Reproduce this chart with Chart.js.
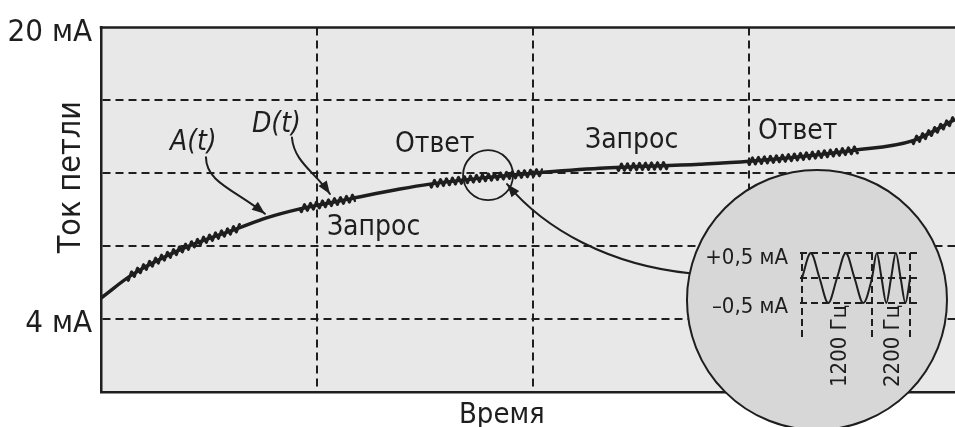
<!DOCTYPE html>
<html><head><meta charset="utf-8">
<script src="https://cdn.jsdelivr.net/npm/chart.js@4.4.1/dist/chart.umd.min.js"></script>
<style>
html,body{margin:0;padding:0;background:#fff;}
#wrap{position:relative;width:955px;height:427px;overflow:hidden;}
canvas{position:absolute;left:0;top:0;}
</style></head><body>
<div id="wrap"><canvas id="main" width="955" height="427"></canvas><canvas id="inset" width="955" height="427"></canvas></div>
<script>
// ---------- data ----------
const timeUnits   = [0, 0.148, 0.38, 0.63, 0.77, 0.921, 1.153, 1.384, 1.523, 1.80, 2.0, 2.31, 2.773, 3.0, 3.48, 3.76, 3.954];
const loopCurrent = [5.16, 6.47, 7.88, 8.97, 9.57, 10.05, 10.60, 11.14, 11.41, 11.79, 12.01, 12.28, 12.5, 12.66, 13.26, 13.8, 14.95];
const yTickValues = [20, 4];
const yTickTexts  = ['20 мА', '4 мА'];
const burstStarts = [0.120, 0.921, 1.523, 2.389, 2.995, 3.755];
const burstEnds   = [0.644, 1.176, 2.042, 2.625, 3.505, 3.954];
const waveTime    = [0, 0.2083, 0.4167, 0.625, 0.8333, 1.0417, 1.25, 1.4583, 1.6667, 1.7803, 1.8939, 2.0076, 2.1212, 2.2348, 2.3485, 2.4621, 2.5758];
const waveCurrent = [0, 0.5, 0, -0.5, 0, 0.5, 0, -0.5, 0, 0.5, 0, -0.5, 0, 0.5, 0, -0.5, 0];
const toneBounds  = [0, 1.6667, 2.5758];
const levelValues = [-0.5, 0, 0.5];
const toneLabels  = ['1200 Гц', '2200 Гц'];
const levelLabels = ['+0,5 мА', '–0,5 мА'];

// ---------- styles / annotation layout ----------
const INK = '#1e1e1e';
const FONT = '"DejaVu Sans Condensed", "Liberation Sans", Arial, sans-serif';
const WIG = {amp: 3.6, period: 6, width: 2.3};
const notes = [
  {t:'A(t)',   x:0.319, y:13.26, size:28, style:'italic '},
  {t:'D(t)',   x:0.699, y:14.29, size:28, style:'italic '},
  {t:'Запрос', x:1.046, y:8.64,  size:28, style:''},
  {t:'Ответ',  x:1.361, y:13.15, size:28, style:''},
  {t:'Запрос', x:2.241, y:13.37, size:28, style:''},
  {t:'Ответ',  x:3.042, y:13.86, size:28, style:''}
];
const arrows = [
  [[0.486,12.88],[0.486,11.52],[0.62,11.09],[0.759,9.78]],
  [[0.884,13.97],[0.894,12.61],[0.991,12.07],[1.06,10.87]],
  [[2.727,6.52],[2.356,6.96],[2.056,8.91],[1.88,11.41]]
];
const smallCircle = {x:1.792, y:11.90, r:25};
const bigCircle = {x:3.315, y:5.054, r:130, fill:'#d7d7d7'};
const yTitle = {t:'Ток петли', x:-0.097, y:11.79, size:32};
const xTitle = {t:'Время', x:1.856, y:-1.685, size:29};
const levelPos = [{x:3.181, y:7.01}, {x:3.181, y:4.35}];
const tonePos = [{x:3.449, y:0.272}, {x:3.694, y:0.272}];

function drawArrow(ctx, p){
  ctx.beginPath();
  ctx.moveTo(p[0][0],p[0][1]);
  ctx.bezierCurveTo(p[1][0],p[1][1],p[2][0],p[2][1],p[3][0],p[3][1]);
  ctx.stroke();
  const ang = Math.atan2(p[3][1]-p[2][1], p[3][0]-p[2][0]);
  const L = 13, W = 5, c = Math.cos(ang), s = Math.sin(ang);
  const x = p[3][0], y = p[3][1];
  ctx.beginPath();
  ctx.moveTo(x, y);
  ctx.lineTo(x - L*c + W*s, y - L*s - W*c);
  ctx.lineTo(x - L*c - W*s, y - L*s + W*c);
  ctx.closePath();
  ctx.fill();
}

const decor = {
  id:'decor',
  beforeDraw(chart){
    const {ctx, chartArea:a} = chart;
    ctx.save(); ctx.fillStyle = '#e8e8e8';
    ctx.fillRect(a.left, a.top, a.right-a.left, a.bottom-a.top);
    ctx.restore();
  },
  afterDatasetsDraw(chart){
    const ctx = chart.ctx, xs = chart.scales.x, ys = chart.scales.y;
    const P = (x,y) => [xs.getPixelForValue(x), ys.getPixelForValue(y)];
    const line = chart.getDatasetMeta(0).dataset;
    ctx.save();
    ctx.strokeStyle = INK; ctx.fillStyle = INK; ctx.lineJoin = 'round'; ctx.lineCap = 'round';
    ctx.lineWidth = WIG.width;
    for (let i = 0; i < burstStarts.length; i++){
      const s = xs.getPixelForValue(burstStarts[i]);
      const e = Math.min(xs.getPixelForValue(burstEnds[i]), chart.chartArea.right - 0.5);
      ctx.beginPath(); let first = true;
      for (let px = s; px <= e; px += 0.5){
        const p = line.interpolate({x:px}, 'x');
        if (!p || Array.isArray(p)) continue;
        const y = p.y + WIG.amp*Math.sin(2*Math.PI*(px-s)/WIG.period);
        if (first){ ctx.moveTo(px,y); first=false; } else ctx.lineTo(px,y);
      }
      ctx.stroke();
    }
    ctx.lineWidth = 2;
    arrows.forEach(a => drawArrow(ctx, a.map(q => P(q[0], q[1]))));
    const sc = P(smallCircle.x, smallCircle.y);
    ctx.lineWidth = 1.8;
    ctx.beginPath(); ctx.arc(sc[0], sc[1], smallCircle.r, 0, Math.PI*2); ctx.stroke();
    ctx.textBaseline = 'alphabetic'; ctx.textAlign = 'left';
    notes.forEach(n => {
      const p = P(n.x, n.y);
      ctx.font = n.style + n.size + 'px ' + FONT;
      ctx.fillText(n.t, p[0], p[1]);
    });
    ctx.restore();
  },
  afterDraw(chart){
    const ctx = chart.ctx, xs = chart.scales.x, ys = chart.scales.y, a = chart.chartArea;
    const P = (x,y) => [xs.getPixelForValue(x), ys.getPixelForValue(y)];
    ctx.save();
    ctx.strokeStyle = INK; ctx.fillStyle = INK;
    ctx.lineWidth = 2.5;
    ctx.beginPath(); ctx.moveTo(a.left-1.25, a.top); ctx.lineTo(a.right, a.top); ctx.stroke();
    // big inset circle
    const bc = P(bigCircle.x, bigCircle.y);
    ctx.beginPath(); ctx.arc(bc[0], bc[1], bigCircle.r, 0, Math.PI*2);
    ctx.fillStyle = bigCircle.fill; ctx.fill();
    ctx.lineWidth = 2; ctx.stroke();
    ctx.fillStyle = INK;
    // inset level labels
    ctx.font = '22px ' + FONT; ctx.textAlign = 'right'; ctx.textBaseline = 'alphabetic';
    levelLabels.forEach((t,i) => { const p = P(levelPos[i].x, levelPos[i].y); ctx.fillText(t, p[0], p[1]); });
    // tone labels (rotated)
    ctx.textAlign = 'left';
    toneLabels.forEach((t,i) => {
      const p = P(tonePos[i].x, tonePos[i].y);
      ctx.save(); ctx.translate(p[0], p[1]); ctx.rotate(-Math.PI/2); ctx.fillText(t, 0, 0); ctx.restore();
    });
    // axis titles
    let p = P(yTitle.x, yTitle.y);
    ctx.font = yTitle.size + 'px ' + FONT; ctx.textAlign = 'center';
    ctx.save(); ctx.translate(p[0], p[1]); ctx.rotate(-Math.PI/2); ctx.fillText(yTitle.t, 0, 0); ctx.restore();
    p = P(xTitle.x, xTitle.y);
    ctx.font = xTitle.size + 'px ' + FONT;
    ctx.fillText(xTitle.t, p[0], p[1]);
    ctx.restore();
  }
};

new Chart(document.getElementById('main'), {
  type:'line',
  data:{datasets:[{
    data: timeUnits.map((t,i) => ({x:t, y:loopCurrent[i]})),
    borderColor: INK, borderWidth: 3.5, pointRadius: 0,
    cubicInterpolationMode: 'monotone', fill: false
  }]},
  options:{
    responsive:false, animation:false, events:[],
    layout:{padding:{top:24, left:0, right:0, bottom:0}},
    plugins:{legend:{display:false}, tooltip:{enabled:false}},
    scales:{
      x:{type:'linear', min:0, max:3.954,
        afterFit(s){ s.height = 35; },
        ticks:{display:false, stepSize:1, includeBounds:false},
        grid:{drawTicks:false, lineWidth:2, color: c => (c.tick && c.tick.value > 0) ? INK : 'rgba(0,0,0,0)'},
        border:{display:true, color:INK, width:2.5, dash:[8,5]}},
      y:{type:'linear', min:0, max:20,
        afterFit(s){ s.width = 101; },
        ticks:{stepSize:4, padding:9, labelOffset:5, color:INK, autoSkip:false,
          font:{family:FONT, size:31},
          callback: v => { const i = yTickValues.indexOf(v); return i >= 0 ? yTickTexts[i] : ''; }},
        grid:{drawTicks:false, lineWidth:2, color: c => (c.tick && c.tick.value > 0 && c.tick.value < 20) ? INK : 'rgba(0,0,0,0)'},
        border:{display:true, color:INK, width:2.5, dash:[8,5]}}
    }
  },
  plugins:[decor]
});

new Chart(document.getElementById('inset'), {
  type:'line',
  data:{datasets:[{
    data: waveTime.map((t,i) => ({x:t, y:waveCurrent[i]})),
    borderColor: INK, borderWidth: 2, pointRadius: 0,
    cubicInterpolationMode: 'monotone', fill: false, clip: false
  }]},
  options:{
    responsive:false, animation:false, events:[],
    layout:{padding:{left:800, right:35, top:253, bottom:90}},
    plugins:{legend:{display:false}, tooltip:{enabled:false}},
    scales:{
      x:{type:'linear', min:-0.048, max:2.81,
        afterBuildTicks(s){ s.ticks = toneBounds.map(v => ({value:v})); },
        afterFit(s){ s.height = 0; },
        ticks:{display:false, autoSkip:false},
        grid:{drawTicks:false, lineWidth:2, color:INK},
        border:{display:false, dash:[7,4]}},
      y:{type:'linear', min:-1.18, max:0.5,
        afterBuildTicks(s){ s.ticks = levelValues.map(v => ({value:v})); },
        afterFit(s){ s.width = 0; },
        ticks:{display:false, autoSkip:false},
        grid:{drawTicks:false, lineWidth:2, color:INK},
        border:{display:false, dash:[7,4]}}
    }
  }
});
</script>
</body></html>
